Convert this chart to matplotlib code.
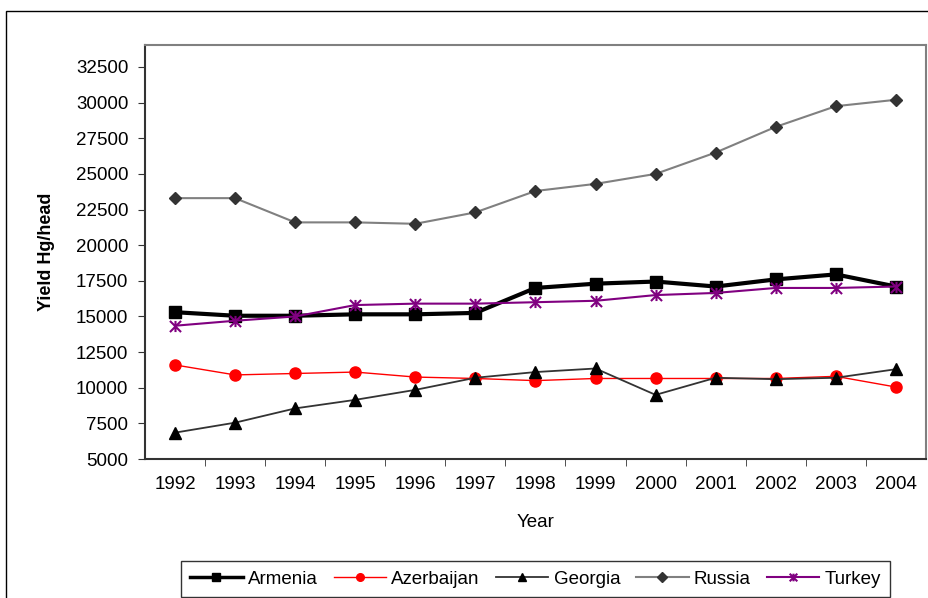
import matplotlib.pyplot as plt
from matplotlib.patches import Rectangle
from matplotlib.path import Path

plt.rcParams['font.family'] = ['Liberation Sans', 'DejaVu Sans']

# data
years = [1992, 1993, 1994, 1995, 1996, 1997, 1998, 1999, 2000, 2001, 2002, 2003, 2004]
armenia = [15300, 15050, 15050, 15150, 15150, 15250, 17000, 17300, 17450, 17100, 17600, 17950, 17100]
azerbaijan = [11600, 10900, 11000, 11100, 10750, 10650, 10500, 10650, 10650, 10650, 10650, 10800, 10050]
georgia = [6850, 7550, 8550, 9150, 9850, 10700, 11100, 11350, 9500, 10700, 10600, 10700, 11300]
russia = [23300, 23300, 21600, 21600, 21500, 22300, 23800, 24300, 25000, 26500, 28300, 29750, 30200]
turkey = [14350, 14700, 15000, 15800, 15900, 15900, 16000, 16100, 16500, 16650, 17000, 17000, 17100]
yticks = list(range(5000, 32501, 2500))

# asterisk marker like excel's star
star = Path([(0, -1), (0, 1), (-1, -1), (1, 1), (-1, 1), (1, -1)],
            [Path.MOVETO, Path.LINETO] * 3)

fs = 13.5

fig = plt.figure(figsize=(9.29, 5.98), dpi=100)
ax = fig.add_axes([0.156, 0.2324, 0.8407, 0.6923])

ax.plot(years, armenia, color='black', lw=3, marker='s', ms=8, label='Armenia')
ax.plot(years, azerbaijan, color='red', lw=1, marker='o', ms=8, label='Azerbaijan')
ax.plot(years, georgia, color='#333333', lw=1.3, marker='^', ms=9,
        mfc='black', mec='black', label='Georgia')
ax.plot(years, russia, color='#808080', lw=1.5, marker='D', ms=6.5,
        mfc='#333333', mec='#333333', label='Russia')
ax.plot(years, turkey, color='#800080', lw=1.5, marker=star, ms=8, mew=1.5,
        mfc='none', mec='#800080', label='Turkey')

ax.set_xlim(1991.5, 2004.5)
ax.set_ylim(5000, 34040)
ax.set_yticks(yticks)
ax.set_xticks(years)
ax.set_xticks([y + 0.5 for y in years[:-1]], minor=True)
ax.tick_params(axis='x', which='major', length=0, labelsize=fs, pad=12)
ax.tick_params(axis='x', which='minor', length=5, color='#333333')
ax.tick_params(axis='y', length=5, labelsize=fs, color='#333333', pad=7)

for s in ax.spines.values():
    s.set_color('#808080')
    s.set_linewidth(1.5)
ax.spines['left'].set_color('#333333')
ax.spines['bottom'].set_color('#333333')

ax.set_xlabel('Year', fontsize=fs, labelpad=15)
ax.set_ylabel('Yield Hg/head', fontsize=fs - 0.5, fontweight='bold', labelpad=15)

leg = fig.legend(loc='upper center', bbox_to_anchor=(0.5764, 0.0615), ncol=5,
                 fontsize=fs, frameon=True, fancybox=False, edgecolor='black',
                 handlelength=2.8, columnspacing=0.85, handletextpad=0.28,
                 borderpad=0.5, borderaxespad=0)
leg.get_frame().set_linewidth(1)
for h in leg.legend_handles:
    h.set_markersize(5.5)
leg.legend_handles[0].set_linewidth(2.5)

# outer chart border
fig.patches.append(Rectangle((0.0065, -0.1), 1.2, 1.0816, transform=fig.transFigure,
                             fill=False, edgecolor='black', lw=1))

plt.savefig('out.png', dpi=100)
